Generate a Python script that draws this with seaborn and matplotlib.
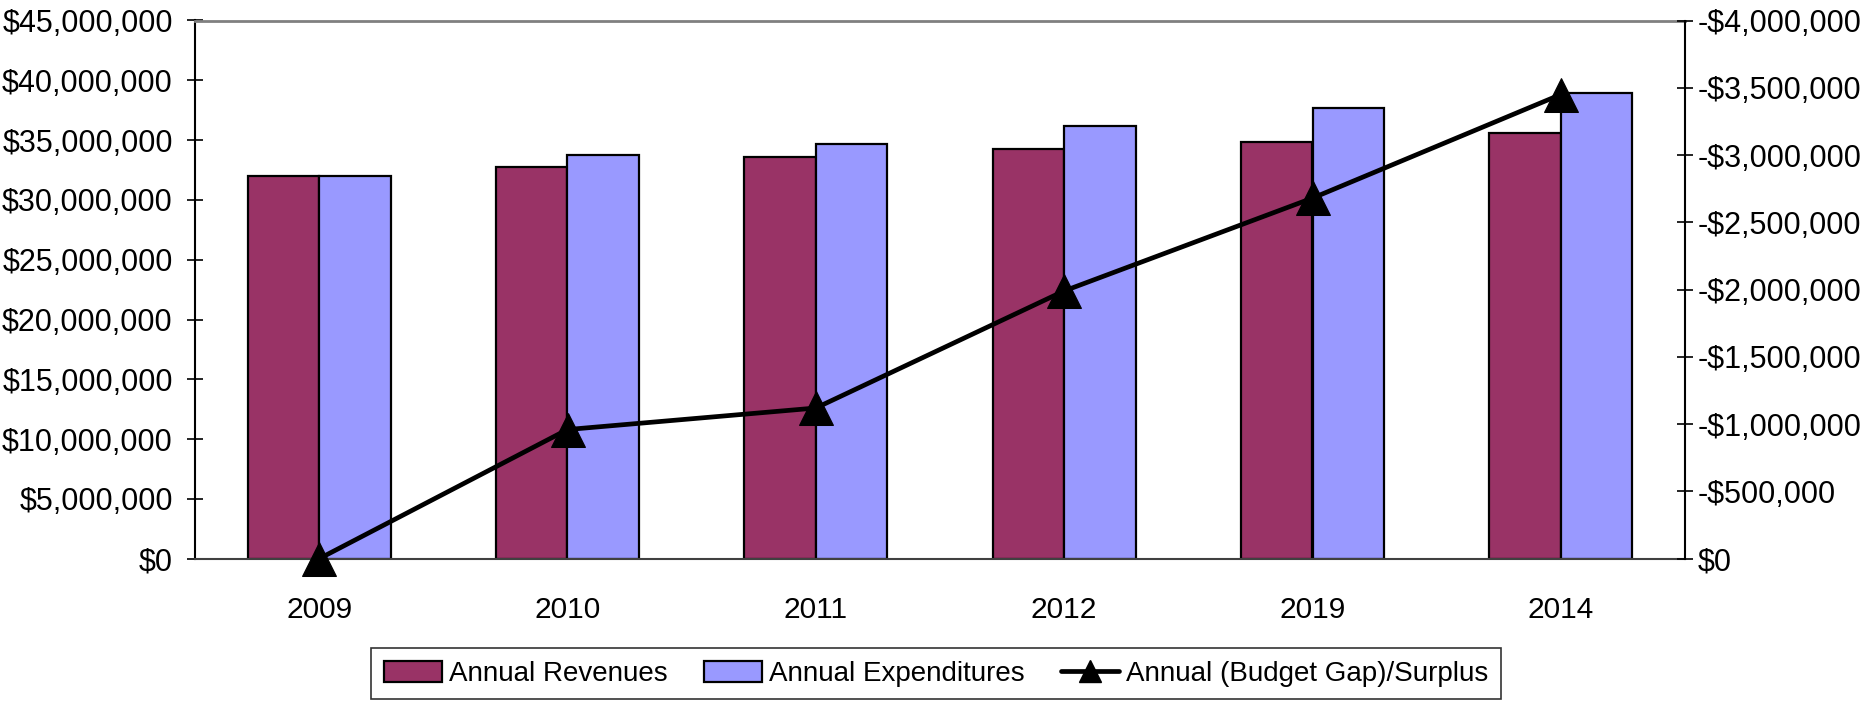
import matplotlib
matplotlib.use("Agg")
import matplotlib.pyplot as plt
import matplotlib.ticker as mticker
import numpy as np
import pandas as pd
import seaborn as sns
from matplotlib.patches import Patch
from matplotlib.lines import Line2D

# ---- data ----
years = ['2009', '2010', '2011', '2012', '2019', '2014']
revenues = [32.0e6, 32.78e6, 33.56e6, 34.28e6, 34.84e6, 35.59e6]
expenditures = [32.0e6, 33.73e6, 34.66e6, 36.18e6, 37.66e6, 38.96e6]
gap = [0, -960000, -1120000, -1990000, -2680000, -3450000]
series_names = ['Annual Revenues', 'Annual Expenditures', 'Annual (Budget Gap)/Surplus']

sns.set_theme(style='white')
plt.rcParams['font.family'] = ['Liberation Sans', 'DejaVu Sans']
plt.rcParams['text.color'] = 'black'
plt.rcParams['xtick.color'] = 'black'
plt.rcParams['ytick.color'] = 'black'
plt.rcParams['xtick.labelcolor'] = 'black'
plt.rcParams['ytick.labelcolor'] = 'black'

df = pd.DataFrame({
    'year': years * 2,
    'value': revenues + expenditures,
    'series': [series_names[0]] * len(years) + [series_names[1]] * len(years),
})

fig = plt.figure(figsize=(18.68, 7.07), dpi=100)
ax = fig.add_axes([195 / 1868, 1 - 558.7 / 707, (1685 - 195) / 1868, (558.7 - 20.5) / 707])

sns.barplot(data=df, x='year', y='value', hue='series', order=years,
            palette=['#993366', '#9999FF'], edgecolor='black', linewidth=1.6,
            width=0.576, gap=0, saturation=1, ax=ax, legend=False)

ax.set_xlim(-0.5, len(years) - 0.5)
ax.set_ylim(0, 45e6)
ax.yaxis.set_major_locator(mticker.MultipleLocator(5e6))
ax.yaxis.set_major_formatter(mticker.FuncFormatter(lambda v, p: f"${v:,.0f}"))
ax.set_xlabel('')
ax.set_ylabel('')

ax.set_xticks(np.arange(len(years)))
ax.set_xticklabels(years)
ax.set_xticks(np.arange(len(years) + 1) - 0.5, minor=True)
ax.tick_params(axis='x', which='major', length=0, pad=27, labelsize=21.5)
ax.tick_params(axis='x', which='minor', length=16, direction='inout', width=1.2, color='black')
ax.tick_params(axis='y', which='major', length=12, direction='inout', width=1.2,
               color='black', labelsize=22, pad=10, left=True)

ax.spines['left'].set_color('black')
ax.spines['left'].set_linewidth(1.5)
ax.spines['top'].set_color('#808080')
ax.spines['top'].set_linewidth(2)
ax.spines['bottom'].set_color('#404040')
ax.spines['bottom'].set_linewidth(1.5)
ax.spines['right'].set_visible(False)

ax2 = ax.twinx()
sns.lineplot(x=np.arange(len(years)), y=gap, ax=ax2, color='black', linewidth=3.4,
             marker='^', markersize=25, markeredgecolor='black', markerfacecolor='black',
             legend=False, clip_on=False)
ax2.set_ylim(0, -4e6)
ax2.yaxis.set_major_locator(mticker.MultipleLocator(5e5))


def neg_fmt(v, p):
    if abs(v) < 1:
        return "$0"
    return f"-${abs(v):,.0f}" if v < 0 else f"${v:,.0f}"


ax2.yaxis.set_major_formatter(mticker.FuncFormatter(neg_fmt))
ax2.tick_params(axis='y', which='major', length=12, direction='inout', width=1.2,
                color='black', labelsize=22, pad=3, right=True)
for s in ['top', 'bottom', 'left']:
    ax2.spines[s].set_visible(False)
ax2.spines['right'].set_color('black')
ax2.spines['right'].set_linewidth(1.5)
ax2.set_ylabel('')
ax2.set_xlim(-0.5, len(years) - 0.5)

handles = [
    Patch(facecolor='#993366', edgecolor='black', linewidth=1.6),
    Patch(facecolor='#9999FF', edgecolor='black', linewidth=1.6),
    Line2D([0], [0], color='black', linewidth=3.4, marker='^', markersize=16),
]
leg = fig.legend(handles, series_names, loc='center', bbox_to_anchor=(0.501, 0.047),
                 ncol=3, fontsize=20, frameon=True, fancybox=False, edgecolor='black',
                 handlelength=2.1, handleheight=0.8, handletextpad=0.25,
                 columnspacing=1.3, borderpad=0.45)
leg.get_frame().set_linewidth(1.2)

fig.savefig('out.png', dpi=100)
